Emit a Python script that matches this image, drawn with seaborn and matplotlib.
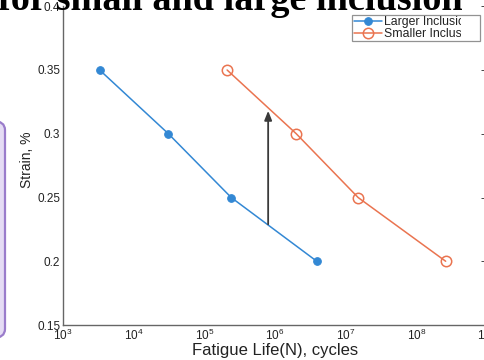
import numpy as np
import pandas as pd
import matplotlib
matplotlib.use("Agg")
import matplotlib.pyplot as plt
import seaborn as sns
from matplotlib.patches import FancyBboxPatch
from matplotlib.transforms import Bbox
from matplotlib.ticker import LogLocator, NullFormatter, FixedLocator

# ---- data ----
strain = [0.35, 0.30, 0.25, 0.20]
larger_N = [3.3e3, 3.1e4, 2.4e5, 3.9e6]
smaller_N = [2.1e5, 2.0e6, 1.5e7, 2.6e8]
series_names = ["Larger Inclusion", "Smaller Inclusion"]
arrow_N = 8.0e5
arrow_from = 0.229
arrow_to = 0.318
y_ticks = [0.15, 0.2, 0.25, 0.3, 0.35, 0.4]
y_tick_labels = ["0.15", "0.2", "0.25", "0.3", "0.35", "0.4"]
title_text = "for small and large inclusion"
x_label = "Fatigue Life(N), cycles"
y_label = "Strain, %"

sns.set_style("white")
plt.rcParams["font.family"] = ["Liberation Sans", "DejaVu Sans"]

W, H = 485, 360
fig = plt.figure(figsize=(W / 100, H / 100), dpi=100)
fig.patch.set_facecolor("white")

ax = fig.add_axes([63 / W, 1 - 325 / H, (487 - 63) / W, (325 - 6.25) / H])

blue = "#3388d4"
orange = "#ea7450"

df_l = pd.DataFrame({"N": larger_N, "strain": strain})
df_s = pd.DataFrame({"N": smaller_N, "strain": strain})

sns.lineplot(data=df_l, x="N", y="strain", ax=ax, color=blue, lw=1.1,
             marker="o", markersize=5.5, markerfacecolor=blue,
             markeredgecolor=blue, label=series_names[0], sort=False)
sns.lineplot(data=df_s, x="N", y="strain", ax=ax, color=orange, lw=1.1,
             marker="o", markersize=7.5, markerfacecolor="none",
             markeredgecolor=orange, markeredgewidth=1.1,
             label=series_names[1], sort=False)

ax.set_xscale("log")
ax.set_xlim(1e3, 1e9)
ax.set_ylim(0.15, 0.4)

ax.xaxis.set_major_locator(LogLocator(base=10, numticks=10))
ax.xaxis.set_minor_locator(LogLocator(base=10, subs=np.arange(2, 10), numticks=20))
ax.xaxis.set_minor_formatter(NullFormatter())
ax.yaxis.set_major_locator(FixedLocator(y_ticks))
ax.set_yticklabels(y_tick_labels)

ax.tick_params(axis="both", which="major", direction="in", length=4,
               width=0.7, color="#444444", labelsize=8.5, labelcolor="#222222",
               right=True, pad=2)
ax.tick_params(axis="x", which="minor", direction="in", length=2.2,
               width=0.6, color="#444444")
ax.tick_params(axis="x", which="both", top=False)

for side in ["left", "bottom", "right"]:
    ax.spines[side].set_color("#666666")
    ax.spines[side].set_linewidth(1.0)
ax.spines["top"].set_visible(False)

ax.set_xlabel(x_label, fontsize=12, color="#222222", labelpad=0.3)
ax.set_ylabel(y_label, fontsize=10, color="#222222")
ax.yaxis.set_label_coords(-0.069, 0.517)

# arrow
ax.annotate("", xy=(arrow_N, arrow_to), xytext=(arrow_N, arrow_from),
            arrowprops=dict(arrowstyle="-|>,head_length=0.55,head_width=0.22",
                            color="#3a3a3a", lw=1.3, shrinkA=0, shrinkB=0))

# legend
leg = ax.legend(loc="upper right", bbox_to_anchor=(480 / W, 1 - 15 / H),
                bbox_transform=fig.transFigure, fontsize=8.8, frameon=True,
                fancybox=False, borderpad=0.12, handlelength=2.3,
                handletextpad=0.2, labelspacing=-0.05, borderaxespad=0)
leg.get_frame().set_edgecolor("#777777")
leg.get_frame().set_linewidth(0.9)
for t in leg.get_texts():
    t.set_color("#222222")
    t.set_clip_box(Bbox([[0, 0], [461, H]]))
    t.set_clip_on(True)

# title (partially cut at top)
fig.text(-2 / W, 1 - 10 / H, title_text, fontsize=27.5, fontweight="bold",
         family=["Liberation Serif", "DejaVu Serif"], color="black",
         ha="left", va="baseline")

# purple box at left edge
box = FancyBboxPatch((-30 / W, 1 - 338 / H), 35 / W, (338 - 121) / H,
                     boxstyle="round,pad=0,rounding_size=0.025",
                     transform=fig.transFigure, facecolor="#e5dcf4",
                     edgecolor="#9a7ccb", linewidth=1.6, clip_on=False)
fig.patches.append(box)

fig.savefig("out.png", dpi=100)
